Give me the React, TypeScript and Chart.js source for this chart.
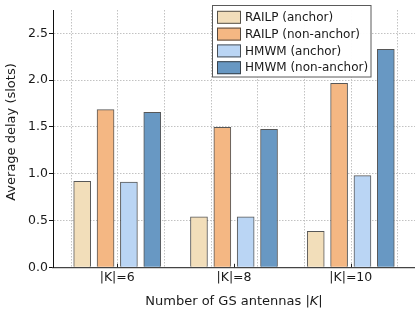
import React, { useEffect, useRef } from 'react';
import { Chart, registerables } from 'chart.js';

Chart.register(...registerables);

// ---------- data ----------
const categories = ['|K|=6', '|K|=8', '|K|=10'];
const seriesNames = ['RAILP (anchor)', 'RAILP (non-anchor)', 'HMWM (anchor)', 'HMWM (non-anchor)'];
const railpAnchor = [0.92, 0.54, 0.385];
const railpNonAnchor = [1.685, 1.495, 1.965];
const hmwmAnchor = [0.91, 0.54, 0.98];
const hmwmNonAnchor = [1.655, 1.475, 2.33];
const yTickValues = [0, 0.5, 1.0, 1.5, 2.0, 2.5];
const xGridValues = [-0.4, 0, 0.4, 0.8, 1.2, 1.6, 2.0, 2.4];

// ---------- styling ----------
const seriesValues = [railpAnchor, railpNonAnchor, hmwmAnchor, hmwmNonAnchor];
const fills = ['#F2DEBA', '#F4B783', '#BAD5F4', '#6898C3'];
const edgeColor = 'rgba(45,45,45,0.8)';
const groupOffsets = [-0.3, -0.1, 0.1, 0.3];
const FONT = "'DejaVu Sans', sans-serif";
const TEXT = '#1a1a1a';

const decorPlugin = {
  id: 'decor',
  beforeDatasetsDraw(chart: any) {
    const { ctx, chartArea: a, scales } = chart;
    const x = scales.x;
    ctx.save();
    ctx.strokeStyle = '#c2c2c2';
    ctx.lineWidth = 1;
    ctx.setLineDash([1.5, 1.5]);
    xGridValues.forEach((v) => {
      const px = Math.round(x.getPixelForValue(v)) + 0.5;
      ctx.beginPath();
      ctx.moveTo(px, a.top);
      ctx.lineTo(px, a.bottom);
      ctx.stroke();
    });
    ctx.restore();
  },
  afterDraw(chart: any) {
    const { ctx, chartArea: a, scales } = chart;
    const x = scales.x;
    ctx.save();
    // inward category ticks
    ctx.strokeStyle = '#222';
    ctx.lineWidth = 1;
    categories.forEach((_, i) => {
      const px = Math.round(x.getPixelForValue(i)) + 0.5;
      ctx.beginPath();
      ctx.moveTo(px, a.bottom);
      ctx.lineTo(px, a.bottom - 3.5);
      ctx.stroke();
    });

    // legend
    const L = { left: 212.5, top: 5.5, right: 371, bottom: 77 };
    ctx.fillStyle = 'rgba(255,255,255,0.97)';
    ctx.fillRect(L.left, L.top, L.right - L.left, L.bottom - L.top);
    ctx.strokeStyle = '#5a5a5a';
    ctx.lineWidth = 1;
    ctx.strokeRect(L.left, L.top, L.right - L.left, L.bottom - L.top);
    ctx.font = `12px ${FONT}`;
    ctx.textBaseline = 'middle';
    ctx.textAlign = 'left';
    seriesNames.forEach((name, i) => {
      const cy = 17.3 + i * 16.8;
      ctx.fillStyle = fills[i];
      ctx.fillRect(217, cy - 6.5, 24, 13);
      ctx.strokeStyle = edgeColor;
      ctx.strokeRect(217.5, cy - 6, 23, 12);
      ctx.fillStyle = TEXT;
      ctx.fillText(name, 245, cy + 0.5);
    });

    // y title
    ctx.font = `13px ${FONT}`;
    ctx.fillStyle = TEXT;
    ctx.save();
    ctx.translate(12, 132);
    ctx.rotate(-Math.PI / 2);
    ctx.textAlign = 'center';
    ctx.textBaseline = 'middle';
    ctx.fillText('Average delay (slots)', 0, 0);
    ctx.restore();

    // x title with italic K
    const p1 = 'Number of GS antennas |';
    const p2 = 'K';
    const p3 = '|';
    const normal = `13px ${FONT}`;
    const italic = `italic 13px ${FONT}`;
    ctx.font = normal;
    const w1 = ctx.measureText(p1).width;
    const w3 = ctx.measureText(p3).width;
    ctx.font = italic;
    const w2 = ctx.measureText(p2).width;
    const total = w1 + w2 + w3;
    const cx = (a.left + a.right) / 2;
    let sx = cx - total / 2;
    const ty = 301.5;
    ctx.textAlign = 'left';
    ctx.textBaseline = 'middle';
    ctx.font = normal;
    ctx.fillText(p1, sx, ty);
    sx += w1;
    ctx.font = italic;
    ctx.fillText(p2, sx, ty);
    sx += w2;
    ctx.font = normal;
    ctx.fillText(p3, sx, ty);
    ctx.restore();
  },
};

export default function App() {
  const canvasRef = useRef<HTMLCanvasElement | null>(null);

  useEffect(() => {
    if (!canvasRef.current) return;
    const datasets = seriesNames.map((name, d) => ({
      label: name,
      data: seriesValues[d].map((v, i) => ({ x: i + groupOffsets[d], y: v })),
      backgroundColor: fills[d],
      borderColor: edgeColor,
      borderWidth: 1,
      barThickness: 17,
      grouped: false,
    }));

    const chart = new Chart(canvasRef.current, {
      type: 'bar',
      data: { datasets } as any,
      options: {
        animation: false,
        responsive: true,
        maintainAspectRatio: false,
        layout: { padding: { top: 10, right: 0, left: 0, bottom: 0 } },
        plugins: { legend: { display: false }, tooltip: { enabled: false } },
        scales: {
          x: {
            type: 'linear',
            min: -0.55,
            max: 2.55,
            offset: false,
            afterBuildTicks: (s: any) => {
              s.ticks = categories.map((_, i) => ({ value: i }));
            },
            afterFit: (s: any) => {
              s.height = 44.7;
            },
            ticks: {
              autoSkip: false,
              maxRotation: 0,
              padding: 3,
              color: TEXT,
              font: { size: 12.5, family: FONT },
              callback: (v: any) => categories[Math.round(Number(v))] ?? '',
            },
            grid: { drawOnChartArea: false, drawTicks: false },
            border: { display: true, color: '#444', width: 1.2 },
          },
          y: {
            type: 'linear',
            min: 0,
            max: 2.75,
            afterBuildTicks: (s: any) => {
              s.ticks = yTickValues.map((v) => ({ value: v }));
            },
            afterFit: (s: any) => {
              s.width = 53;
            },
            ticks: {
              padding: 1,
              color: TEXT,
              font: { size: 12.5, family: FONT },
              callback: (v: any) => Number(v).toFixed(1),
            },
            grid: {
              color: (c: any) => (c.tick && c.tick.value === 0 ? 'rgba(0,0,0,0)' : '#c2c2c2'),
              lineWidth: 1,
              drawTicks: true,
              tickLength: 4,
              tickColor: '#111',
              tickWidth: 1,
            },
            border: { display: true, color: '#111', width: 1, dash: [1.5, 1.5] },
          },
        },
      } as any,
      plugins: [decorPlugin],
    });
    return () => chart.destroy();
  }, []);

  return (
    <div style={{ position: 'fixed', left: 0, top: 0, width: 415, height: 312, background: '#fff' }}>
      <canvas ref={canvasRef} style={{ display: 'block' }} />
    </div>
  );
}
